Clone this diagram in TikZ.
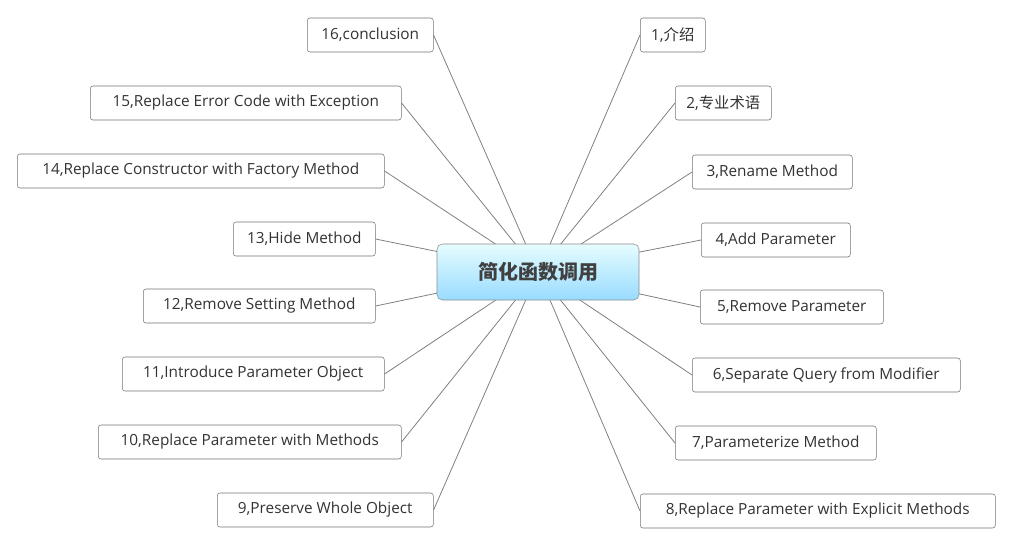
\documentclass[tikz,border=0pt]{standalone}
\usepackage{fontspec}
\setmainfont{Open Sans}
\newfontfamily\cjk{Noto Sans CJK SC}
\begin{document}
\begin{tikzpicture}[x=0.75pt,y=-0.75pt,
  leaf/.style={draw=black!55,fill=white,rounded corners=2pt,minimum height=25.5pt,inner sep=2pt,font=\fontsize{11.5}{13}\selectfont,text=black!80},
  link/.style={draw=black!50,line width=0.6pt}]
\useasboundingbox (0,0) rectangle (1012,546);
\def\R#1#2#3#4#5{\node[leaf,anchor=west,minimum width={(#3-#2)*0.75pt}] (#1) at (#2,#4) {#5};}
\R{r1}{640}{705}{35}{1,{\cjk 介绍}}
\R{r2}{675}{771}{103}{2,{\cjk 专业术语}}
\R{r3}{692}{852}{172}{3,Rename Method}
\R{r4}{701}{850}{240}{4,Add Parameter}
\R{r5}{700}{883}{307}{5,Remove Parameter}
\R{r6}{692}{960}{375}{6,Separate Query from Modifier}
\R{r7}{675}{876}{443}{7,Parameterize Method}
\R{r8}{640}{995}{511}{8,Replace Parameter with Explicit Methods}
\R{l16}{307}{433}{35}{16,conclusion}
\R{l15}{90}{401}{103}{15,Replace Error Code with Exception}
\R{l14}{17}{384}{171}{14,Replace Constructor with Factory Method}
\R{l13}{233}{375}{239}{13,Hide Method}
\R{l12}{143}{375}{306}{12,Remove Setting Method}
\R{l11}{122}{384}{374}{11,Introduce Parameter Object}
\R{l10}{98}{401}{442}{10,Replace Parameter with Methods}
\R{l9}{217}{433}{510}{9,Preserve Whole Object}
\coordinate (c) at (538,272);
\begin{scope}[on background layer/.try]
\foreach \n in {r1,r2,r3,r4,r5,r6,r7,r8} \draw[link] (c) -- (\n.west);
\foreach \n in {l9,l10,l11,l12,l13,l14,l15,l16} \draw[link] (c) -- (\n.east);
\end{scope}
\node[draw=black!45,rounded corners=4pt,top color=blue!8!cyan!10,bottom color=blue!35!cyan!40,minimum width=151.5pt,minimum height=42pt,font=\cjk\bfseries\fontsize{15}{18}\selectfont,text=black!75] (center) at (538,272) {简化函数调用};
\end{tikzpicture}
\end{document}
